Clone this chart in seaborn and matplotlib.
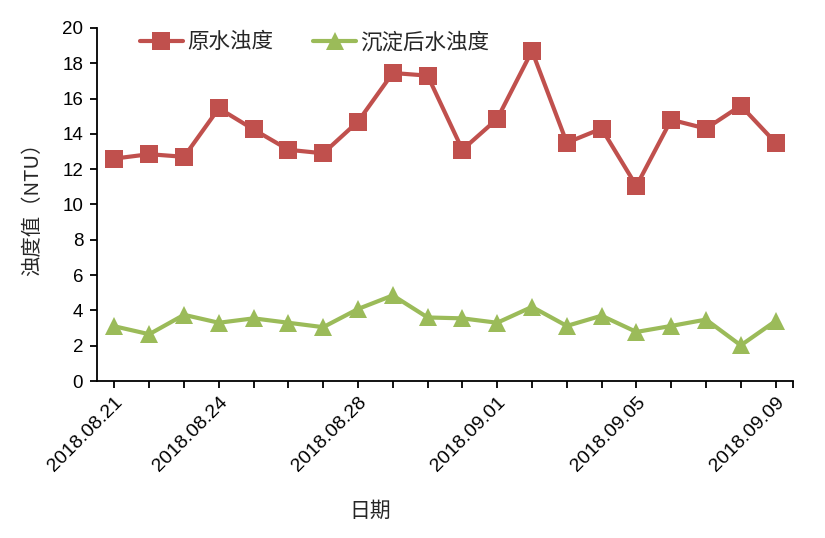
import matplotlib
matplotlib.use("Agg")
import matplotlib.pyplot as plt
import seaborn as sns
import pandas as pd
import numpy as np

dates = ["2018.08.21", "2018.08.22", "2018.08.23", "2018.08.24", "2018.08.25",
         "2018.08.26", "2018.08.27", "2018.08.28", "2018.08.29", "2018.08.30",
         "2018.08.31", "2018.09.01", "2018.09.02", "2018.09.03", "2018.09.04",
         "2018.09.05", "2018.09.06", "2018.09.07", "2018.09.08", "2018.09.09"]
raw_turbidity = [12.6, 12.85, 12.7, 15.45, 14.25, 13.1, 12.9, 14.7, 17.45, 17.3,
                 13.1, 14.85, 18.7, 13.5, 14.3, 11.05, 14.8, 14.3, 15.6, 13.5]
settled_turbidity = [3.1, 2.65, 3.75, 3.3, 3.55, 3.3, 3.05, 4.08, 4.85, 3.6,
                     3.55, 3.3, 4.2, 3.12, 3.7, 2.78, 3.12, 3.48, 2.02, 3.4]
shown_labels = ["2018.08.21", "2018.08.24", "2018.08.28", "2018.09.01", "2018.09.05", "2018.09.09"]
series_names = ["原水浊度", "沉淀后水浊度"]

sns.set_theme(style="white")
plt.rcParams['font.family'] = ['Noto Sans CJK SC', 'DejaVu Sans']

df = pd.DataFrame({
    "idx": list(range(len(dates))) * 2,
    "value": raw_turbidity + settled_turbidity,
    "series": [series_names[0]] * len(dates) + [series_names[1]] * len(dates),
})

fig = plt.figure(figsize=(8.25, 5.38), dpi=100)
ax = fig.add_axes([0.1176, 0.2918, 0.8436, 0.6562])

palette = {series_names[0]: "#C0504D", series_names[1]: "#9BBB59"}
markers = {series_names[0]: "s", series_names[1]: "^"}
sns.lineplot(data=df, x="idx", y="value", hue="series", style="series",
             palette=palette, markers=markers, dashes=False, linewidth=3.0,
             markersize=12.3, markeredgewidth=0, ax=ax)

ax.set_xlim(-0.5, 19.5)
ax.set_ylim(0, 20)
ax.set_yticks(np.arange(0, 21, 2))
ax.set_xticks(list(range(len(dates))) + [19.5])
lbls = [d if d in shown_labels else "" for d in dates] + [""]
ax.set_xticklabels(lbls, rotation=45, ha="right", rotation_mode="anchor",
                   fontsize=14, family=['Liberation Sans'])
for t in ax.get_yticklabels():
    t.set_fontsize(13.5)
    t.set_family(['Liberation Sans'])

for s in ["top", "right"]:
    ax.spines[s].set_visible(False)
for s in ["left", "bottom"]:
    ax.spines[s].set_color("black")
    ax.spines[s].set_linewidth(1.3)
ax.tick_params(axis="both", direction="out", length=5, width=1.3, color="black",
               bottom=True, left=True, labelcolor="black")
ax.tick_params(axis="x", pad=4)
ax.tick_params(axis="y", pad=5)

ax.set_xlabel("日期", fontsize=15)
ax.set_ylabel("浊度值（NTU）", fontsize=14.7)
ax.xaxis.set_label_coords(0.392, -0.337)
ax.yaxis.set_label_coords(-0.078, 0.5)

leg = ax.legend(loc="center left", bbox_to_anchor=(0.049, 0.96), ncol=2, frameon=False,
                borderaxespad=0, fontsize=15.5, handlelength=2.0, columnspacing=1.86,
                handletextpad=0.2)

fig.savefig("out.png", dpi=100)
